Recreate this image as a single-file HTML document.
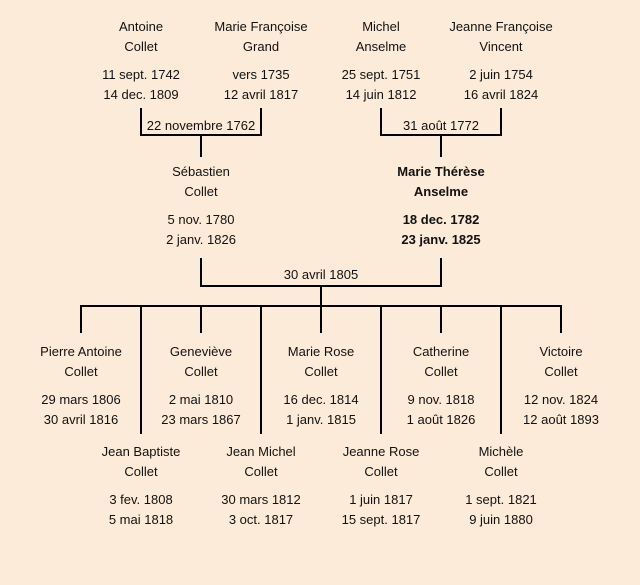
<!DOCTYPE html>
<html><head><meta charset="utf-8"><style>
body{margin:0;width:640px;height:585px;background:#fcebd8;position:relative;overflow:hidden;font-family:"Liberation Sans","DejaVu Sans",sans-serif;font-size:13px;color:#111}
.t{position:absolute;width:160px;margin-left:-80px;text-align:center;line-height:20px;white-space:nowrap}
.b{font-weight:bold}
svg{position:absolute;left:0;top:0}
.lb{position:absolute;background:#fcebd8;padding:0 2px;line-height:16px;transform:translateX(-50%);white-space:nowrap}
</style></head><body>
<svg width="640" height="585" stroke="#000" stroke-width="2" fill="none">
<path d="M141 108V135H261V108M201 135V157"/>
<path d="M381 108V135H501V108M441 135V157"/>
<path d="M201 258V286H441V258M321 286V306"/>
<path d="M81 333V306H561V333M201 306V333M321 306V333M441 306V333"/>
<path d="M141 306V434M261 306V434M381 306V434M501 306V434"/>
</svg>
<div class="lb" style="left:201px;top:118px">22 novembre 1762</div>
<div class="lb" style="left:441px;top:118px">31 août 1772</div>
<div class="lb" style="left:321px;top:267px">30 avril 1805</div>

<div class="t" style="left:141px;top:17px">Antoine<br>Collet</div>
<div class="t" style="left:141px;top:65px">11 sept. 1742<br>14 dec. 1809</div>
<div class="t" style="left:261px;top:17px">Marie Françoise<br>Grand</div>
<div class="t" style="left:261px;top:65px">vers 1735<br>12 avril 1817</div>
<div class="t" style="left:381px;top:17px">Michel<br>Anselme</div>
<div class="t" style="left:381px;top:65px">25 sept. 1751<br>14 juin 1812</div>
<div class="t" style="left:501px;top:17px">Jeanne Françoise<br>Vincent</div>
<div class="t" style="left:501px;top:65px">2 juin 1754<br>16 avril 1824</div>

<div class="t" style="left:201px;top:162px">Sébastien<br>Collet</div>
<div class="t" style="left:201px;top:210px">5 nov. 1780<br>2 janv. 1826</div>
<div class="t b" style="left:441px;top:162px">Marie Thérèse<br>Anselme</div>
<div class="t b" style="left:441px;top:210px">18 dec. 1782<br>23 janv. 1825</div>

<div class="t" style="left:81px;top:342px">Pierre Antoine<br>Collet</div>
<div class="t" style="left:81px;top:390px">29 mars 1806<br>30 avril 1816</div>
<div class="t" style="left:201px;top:342px">Geneviève<br>Collet</div>
<div class="t" style="left:201px;top:390px">2 mai 1810<br>23 mars 1867</div>
<div class="t" style="left:321px;top:342px">Marie Rose<br>Collet</div>
<div class="t" style="left:321px;top:390px">16 dec. 1814<br>1 janv. 1815</div>
<div class="t" style="left:441px;top:342px">Catherine<br>Collet</div>
<div class="t" style="left:441px;top:390px">9 nov. 1818<br>1 août 1826</div>
<div class="t" style="left:561px;top:342px">Victoire<br>Collet</div>
<div class="t" style="left:561px;top:390px">12 nov. 1824<br>12 août 1893</div>

<div class="t" style="left:141px;top:442px">Jean Baptiste<br>Collet</div>
<div class="t" style="left:141px;top:490px">3 fev. 1808<br>5 mai 1818</div>
<div class="t" style="left:261px;top:442px">Jean Michel<br>Collet</div>
<div class="t" style="left:261px;top:490px">30 mars 1812<br>3 oct. 1817</div>
<div class="t" style="left:381px;top:442px">Jeanne Rose<br>Collet</div>
<div class="t" style="left:381px;top:490px">1 juin 1817<br>15 sept. 1817</div>
<div class="t" style="left:501px;top:442px">Michèle<br>Collet</div>
<div class="t" style="left:501px;top:490px">1 sept. 1821<br>9 juin 1880</div>
</body></html>
